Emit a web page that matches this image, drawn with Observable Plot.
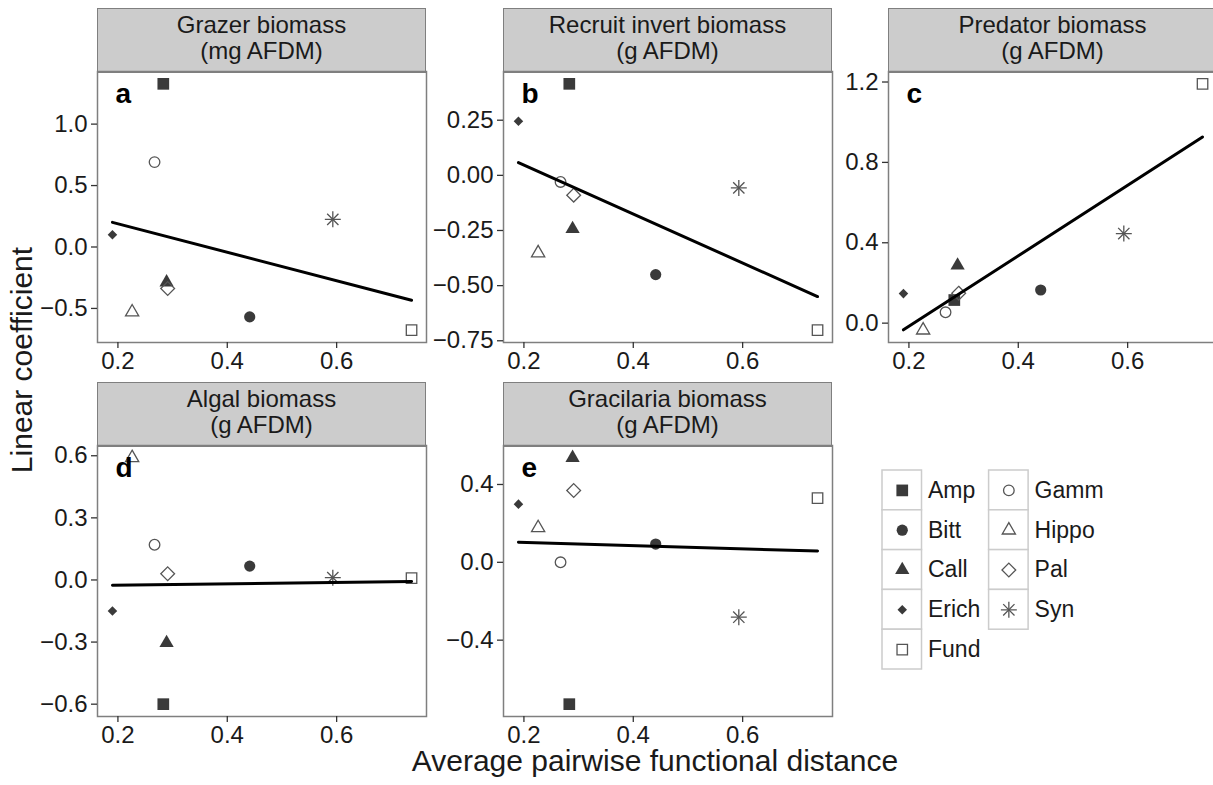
<!DOCTYPE html>
<html>
<head>
<meta charset="utf-8">
<script src="https://cdn.jsdelivr.net/npm/d3@7"></script>
<script src="https://cdn.jsdelivr.net/npm/@observablehq/plot@0.6"></script>
<style>
  html, body { margin: 0; padding: 0; background: #fff; }
  body { width: 1213px; height: 785px; overflow: hidden; position: relative;
         font-family: "Liberation Sans", Arial, Helvetica, sans-serif; color: #1a1a1a; }
  .strip { position: absolute; box-sizing: border-box; background: #cccccc;
           border: 1.5px solid #7f7f7f; text-align: center; font-size: 24px;
           line-height: 26px; padding-top: 2.5px; color: #1a1a1a; white-space: nowrap; }
  .xtitle { position: absolute; font-size: 30px; line-height: 22px; text-align: center; }
  .ytitle { position: absolute; font-size: 30px; line-height: 34px; text-align: center;
            transform: rotate(-90deg); transform-origin: 50% 50%; }
</style>
</head>
<body>
<script>
// ---------------- data ----------------
const species = ["Amp", "Bitt", "Call", "Erich", "Fund", "Gamm", "Hippo", "Pal", "Syn"];
const distance = [0.283, 0.441, 0.289, 0.190, 0.737, 0.267, 0.226, 0.291, 0.593];

const grazerCoef     = [1.328, -0.569, -0.287, 0.100, -0.677, 0.691, -0.530, -0.338, 0.225];
const recruitCoef    = [0.415, -0.450, -0.243, 0.245, -0.702, -0.030, -0.352, -0.090, -0.057];
const predatorCoef   = [0.115, 0.165, 0.287, 0.147, 1.191, 0.054, -0.035, 0.149, 0.446];
const algalCoef      = [-0.600, 0.067, -0.304, -0.150, 0.009, 0.170, 0.590, 0.030, 0.011];
const gracilariaCoef = [-0.729, 0.094, 0.537, 0.299, 0.330, 0.000, 0.177, 0.369, -0.282];

const panelLetters = ["a", "b", "c", "d", "e"];
const panelTitles = [
  ["Grazer biomass", "(mg AFDM)"],
  ["Recruit invert biomass", "(g AFDM)"],
  ["Predator biomass", "(g AFDM)"],
  ["Algal biomass", "(g AFDM)"],
  ["Gracilaria biomass", "(g AFDM)"]
];
const xTicks = [0.2, 0.4, 0.6];
const grazerTicks = [-0.5, 0.0, 0.5, 1.0];
const recruitTicks = [-0.75, -0.50, -0.25, 0.00, 0.25];
const predatorTicks = [0.0, 0.4, 0.8, 1.2];
const algalTicks = [-0.6, -0.3, 0.0, 0.3, 0.6];
const gracilariaTicks = [-0.4, 0.0, 0.4];

const xTitle = "Average pairwise functional distance";
const yTitle = "Linear coefficient";

// ---------------- styles / layout ----------------
const DARK = "#3a3a3a", GREY = "#555555";
const shapeStyle = {
  Amp:   {symbols: ["square"],   r: 6.6, filled: true},
  Bitt:  {symbols: ["circle"],   r: 5.6, filled: true},
  Call:  {symbols: ["triangle"], r: 5.3, filled: true},
  Erich: {symbols: ["diamond2"], r: 4.3, filled: true},
  Fund:  {symbols: ["square"],   r: 5.9, filled: false},
  Gamm:  {symbols: ["circle"],   r: 5.3, filled: false},
  Hippo: {symbols: ["triangle"], r: 4.9, filled: false},
  Pal:   {symbols: ["diamond2"], r: 6.2, filled: false},
  Syn:   {symbols: ["plus", "times"], r: 5.2, filled: false}
};

const FONT = "Liberation Sans, Arial, Helvetica, sans-serif";
const PW = 329, PH = 271, ML = 90, MT = 4, MR = 4, MB = 44;

const panels = [
  {values: grazerCoef,     ticks: grazerTicks,     fmt: ".1f", left: 97,  top: 71},
  {values: recruitCoef,    ticks: recruitTicks,    fmt: ".2f", left: 503, top: 71},
  {values: predatorCoef,   ticks: predatorTicks,   fmt: ".1f", left: 888, top: 71},
  {values: algalCoef,      ticks: algalTicks,      fmt: ".1f", left: 97,  top: 445},
  {values: gracilariaCoef, ticks: gracilariaTicks, fmt: ".1f", left: 503, top: 445}
];

function pad(ext) {
  const d = (ext[1] - ext[0]) * 0.05;
  return [ext[0] - d, ext[1] + d];
}
const xDomain = pad(d3.extent(distance));

function symbolMarks(rows, xAcc, yAcc) {
  const marks = [];
  for (const sp of species) {
    const st = shapeStyle[sp];
    const sub = rows.filter(d => d.sp === sp);
    for (const sym of st.symbols) {
      marks.push(Plot.dot(sub, {
        x: xAcc, y: yAcc, symbol: sym, r: st.r,
        fill: st.filled ? DARK : "none",
        stroke: st.filled ? "none" : GREY,
        strokeWidth: st.filled ? 0 : 1.3
      }));
    }
  }
  return marks;
}

panels.forEach((p, i) => {
  const rows = species.map((sp, j) => ({sp, x: distance[j], y: p.values[j]}));
  const yDomain = pad(d3.extent(p.values));

  // strip
  const strip = document.createElement("div");
  strip.className = "strip";
  strip.style.left = p.left + "px";
  strip.style.top = (p.top - 63) + "px";
  strip.style.width = PW + "px";
  strip.style.height = "64.5px";
  strip.innerHTML = panelTitles[i].join("<br>");
  document.body.appendChild(strip);

  const chart = Plot.plot({
    width: ML + PW + MR,
    height: MT + PH + MB,
    marginLeft: ML, marginRight: MR, marginTop: MT, marginBottom: MB,
    style: {fontFamily: FONT, fontSize: "24px", color: "#1a1a1a", background: "transparent", overflow: "visible"},
    x: {domain: xDomain},
    y: {domain: yDomain},
    marks: [
      Plot.frame({stroke: "#7f7f7f", strokeWidth: 1.5}),
      Plot.axisX({ticks: xTicks, tickSize: 6, tickPadding: 3, tickFormat: d3.format(".1f"),
                  label: null, fontSize: 24, stroke: "#333", strokeWidth: 1.3}),
      Plot.axisY({ticks: p.ticks, tickSize: 6, tickPadding: 4, tickFormat: d3.format(p.fmt),
                  label: null, fontSize: 24, stroke: "#333", strokeWidth: 1.3}),
      ...symbolMarks(rows, "x", "y"),
      Plot.linearRegressionY(rows, {x: "x", y: "y", ci: 0, stroke: "black", strokeWidth: 3}),
      Plot.text([panelLetters[i]], {frameAnchor: "top-left", dx: 18, dy: 12, lineAnchor: "top",
                  textAnchor: "start", fontWeight: "bold", fontSize: 28, fill: "black"})
    ]
  });
  chart.style.position = "absolute";
  chart.style.left = (p.left - ML) + "px";
  chart.style.top = (p.top - MT) + "px";
  document.body.appendChild(chart);
});

// ---------------- legend ----------------
const legendRows = species.map((s, i) => ({s, col: Math.floor(i / 5), row: i % 5}));
const KEYW = 39.5 / 106.6;
const legend = Plot.plot({
  width: 260, height: 212, margin: 0,
  style: {fontFamily: FONT, color: "#1a1a1a", background: "transparent", overflow: "visible"},
  x: {domain: [0, 1], range: [12, 118.6], axis: null},
  y: {domain: [0, 5], range: [5, 204], axis: null},
  marks: [
    Plot.rect(legendRows, {x1: "col", x2: d => d.col + KEYW, y1: "row", y2: d => d.row + 1,
              fill: "white", stroke: "#cccccc", strokeWidth: 1.5}),
    ...symbolMarks(legendRows.map(d => ({...d, sp: d.s})), d => d.col + KEYW / 2, d => d.row + 0.5),
    Plot.text(legendRows, {x: d => d.col + KEYW, y: d => d.row + 0.5, text: "s", dx: 6,
              textAnchor: "start", fontSize: 23, fill: "#1a1a1a"})
  ]
});
legend.style.position = "absolute";
legend.style.left = "870px";
legend.style.top = "465px";
document.body.appendChild(legend);

// ---------------- axis titles ----------------
const xt = document.createElement("div");
xt.className = "xtitle";
xt.style.left = "255px"; xt.style.width = "800px"; xt.style.top = "750px";
xt.textContent = xTitle;
document.body.appendChild(xt);

const yt = document.createElement("div");
yt.className = "ytitle";
yt.style.left = (22 - 200) + "px"; yt.style.width = "400px"; yt.style.top = (360 - 17) + "px";
yt.style.height = "34px";
yt.textContent = yTitle;
document.body.appendChild(yt);
</script>
</body>
</html>
